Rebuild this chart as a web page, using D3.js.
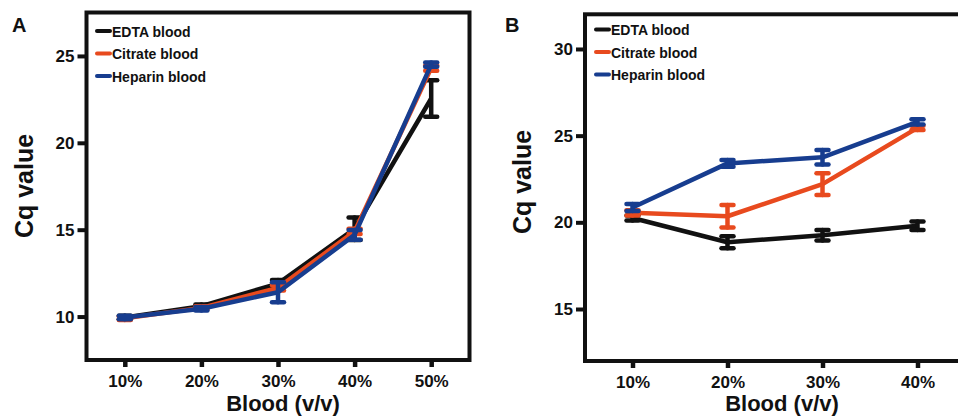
<!DOCTYPE html>
<html>
<head>
<meta charset="utf-8">
<script src="https://cdn.jsdelivr.net/npm/d3@7"></script>
<style>
  body { margin: 0; background: #fff; }
  svg { display: block; }
</style>
</head>
<body>
<div id="chart"></div>
<script>
// data: [mean, error]
const seriesNames = ["EDTA blood", "Citrate blood", "Heparin blood"];
const seriesColors = ["#111111", "#e84a1e", "#173d8f"];

const catsA = ["10%", "20%", "30%", "40%", "50%"];
const edtaA = [[9.95, 0.1], [10.6, 0.1], [11.9, 0.2], [15.05, 0.65], [22.55, 1.05]];
const citrateA = [[9.9, 0.1], [10.5, 0.1], [11.65, 0.15], [14.9, 0.15], [24.3, 0.15]];
const heparinA = [[9.95, 0.1], [10.45, 0.1], [11.4, 0.58], [14.7, 0.28], [24.5, 0.12]];
const ticksA = [10, 15, 20, 25];

const catsB = ["10%", "20%", "30%", "40%"];
const edtaB = [[20.25, 0.15], [18.85, 0.35], [19.25, 0.3], [19.8, 0.25]];
const citrateB = [[20.55, 0.15], [20.35, 0.65], [22.2, 0.63], [25.45, 0.12]];
const heparinB = [[20.85, 0.2], [23.4, 0.2], [23.75, 0.42], [25.8, 0.15]];
const ticksB = [15, 20, 25, 30];

const width = 958;
const height = 416;
const font = "'Liberation Sans', Arial, sans-serif";

const svg = d3.select("#chart").append("svg")
    .attr("width", width)
    .attr("height", height)
    .attr("font-family", font);

function drawPanel(p) {
    const g = svg.append("g");

    const x = d3.scalePoint()
        .domain(p.cats)
        .range([p.left, p.right])
        .padding(0.5);

    const y = d3.scaleLinear()
        .domain(p.yDomain)
        .range([p.bottom, p.top]);

    // y axis
    const yAxis = g.append("g")
        .attr("transform", `translate(${p.left},0)`)
        .call(d3.axisLeft(y).tickValues(p.ticks).tickSize(9).tickPadding(3));
    yAxis.select(".domain").remove();
    yAxis.selectAll(".tick line").attr("stroke", "#111").attr("stroke-width", 4);
    yAxis.selectAll(".tick text")
        .attr("fill", "#111")
        .attr("font-size", "17px")
        .attr("font-weight", "bold")
        .attr("font-family", font);

    // x axis
    const xAxis = g.append("g")
        .attr("transform", `translate(0,${p.bottom})`)
        .call(d3.axisBottom(x).tickSize(7).tickPadding(8));
    xAxis.select(".domain").remove();
    xAxis.selectAll(".tick line").attr("stroke", "#111").attr("stroke-width", 4.5);
    xAxis.selectAll(".tick text")
        .attr("fill", "#111")
        .attr("font-size", "17px")
        .attr("font-weight", "bold")
        .attr("font-family", font);

    // frame
    g.append("rect")
        .attr("x", p.left)
        .attr("y", p.top)
        .attr("width", p.right - p.left)
        .attr("height", p.bottom - p.top)
        .attr("fill", "none")
        .attr("stroke", "#111")
        .attr("stroke-width", 4);

    const line = d3.line()
        .x((d, i) => x(p.cats[i]))
        .y(d => y(d[0]));

    p.series.forEach((s, k) => {
        const col = seriesColors[k];
        g.append("path")
            .datum(s)
            .attr("d", line)
            .attr("fill", "none")
            .attr("stroke", col)
            .attr("stroke-width", 4.5)
            .attr("stroke-linejoin", "round");

        const eb = g.append("g").selectAll("g")
            .data(s)
            .enter().append("g")
            .attr("stroke", col)
            .attr("stroke-width", 4.5)
            .attr("stroke-linecap", "round");
        eb.append("line")
            .attr("x1", (d, i) => x(p.cats[i]))
            .attr("x2", (d, i) => x(p.cats[i]))
            .attr("y1", d => y(d[0] - d[1]))
            .attr("y2", d => y(d[0] + d[1]));
        eb.append("line")
            .attr("x1", (d, i) => x(p.cats[i]) - 6)
            .attr("x2", (d, i) => x(p.cats[i]) + 6)
            .attr("y1", d => y(d[0] + d[1]))
            .attr("y2", d => y(d[0] + d[1]));
        eb.append("line")
            .attr("x1", (d, i) => x(p.cats[i]) - 6)
            .attr("x2", (d, i) => x(p.cats[i]) + 6)
            .attr("y1", d => y(d[0] - d[1]))
            .attr("y2", d => y(d[0] - d[1]));
    });

    // legend
    const legend = g.append("g")
        .selectAll("g")
        .data(seriesNames)
        .enter().append("g")
        .attr("transform", (d, i) => `translate(${p.legendX},${p.legendY + i * 22.5})`);
    legend.append("line")
        .attr("x1", 0)
        .attr("x2", 13)
        .attr("stroke", (d, i) => seriesColors[i])
        .attr("stroke-width", 4)
        .attr("stroke-linecap", "round");
    legend.append("text")
        .attr("x", 15)
        .attr("y", 5.5)
        .attr("font-size", "14px")
        .attr("font-weight", "bold")
        .attr("fill", "#111")
        .text(d => d);

    // axis titles
    g.append("text")
        .attr("transform", `translate(${p.yTitleX},${p.yTitleY}) rotate(-90)`)
        .attr("text-anchor", "middle")
        .attr("font-size", "25px")
        .attr("font-weight", "bold")
        .attr("fill", "#111")
        .text("Cq value");

    g.append("text")
        .attr("x", p.xTitleX)
        .attr("y", 411)
        .attr("text-anchor", "middle")
        .attr("font-size", "22px")
        .attr("font-weight", "bold")
        .attr("fill", "#111")
        .text("Blood (v/v)");

    // panel letter
    g.append("text")
        .attr("x", p.letterX)
        .attr("y", 32)
        .attr("font-size", "20px")
        .attr("font-weight", "bold")
        .attr("fill", "#111")
        .text(p.letter);
}

drawPanel({
    letter: "A", letterX: 12,
    cats: catsA, series: [edtaA, citrateA, heparinA], ticks: ticksA,
    yDomain: [7.5, 27.5],
    left: 86.5, right: 469.5, top: 12.5, bottom: 360,
    legendX: 97, legendY: 31,
    yTitleX: 33, yTitleY: 186, xTitleX: 283
});

drawPanel({
    letter: "B", letterX: 505,
    cats: catsB, series: [edtaB, citrateB, heparinB], ticks: ticksB,
    yDomain: [12, 32],
    left: 585, right: 965, top: 14.3, bottom: 361,
    legendX: 596, legendY: 29.5,
    yTitleX: 531, yTitleY: 182, xTitleX: 782
});
</script>
</body>
</html>
